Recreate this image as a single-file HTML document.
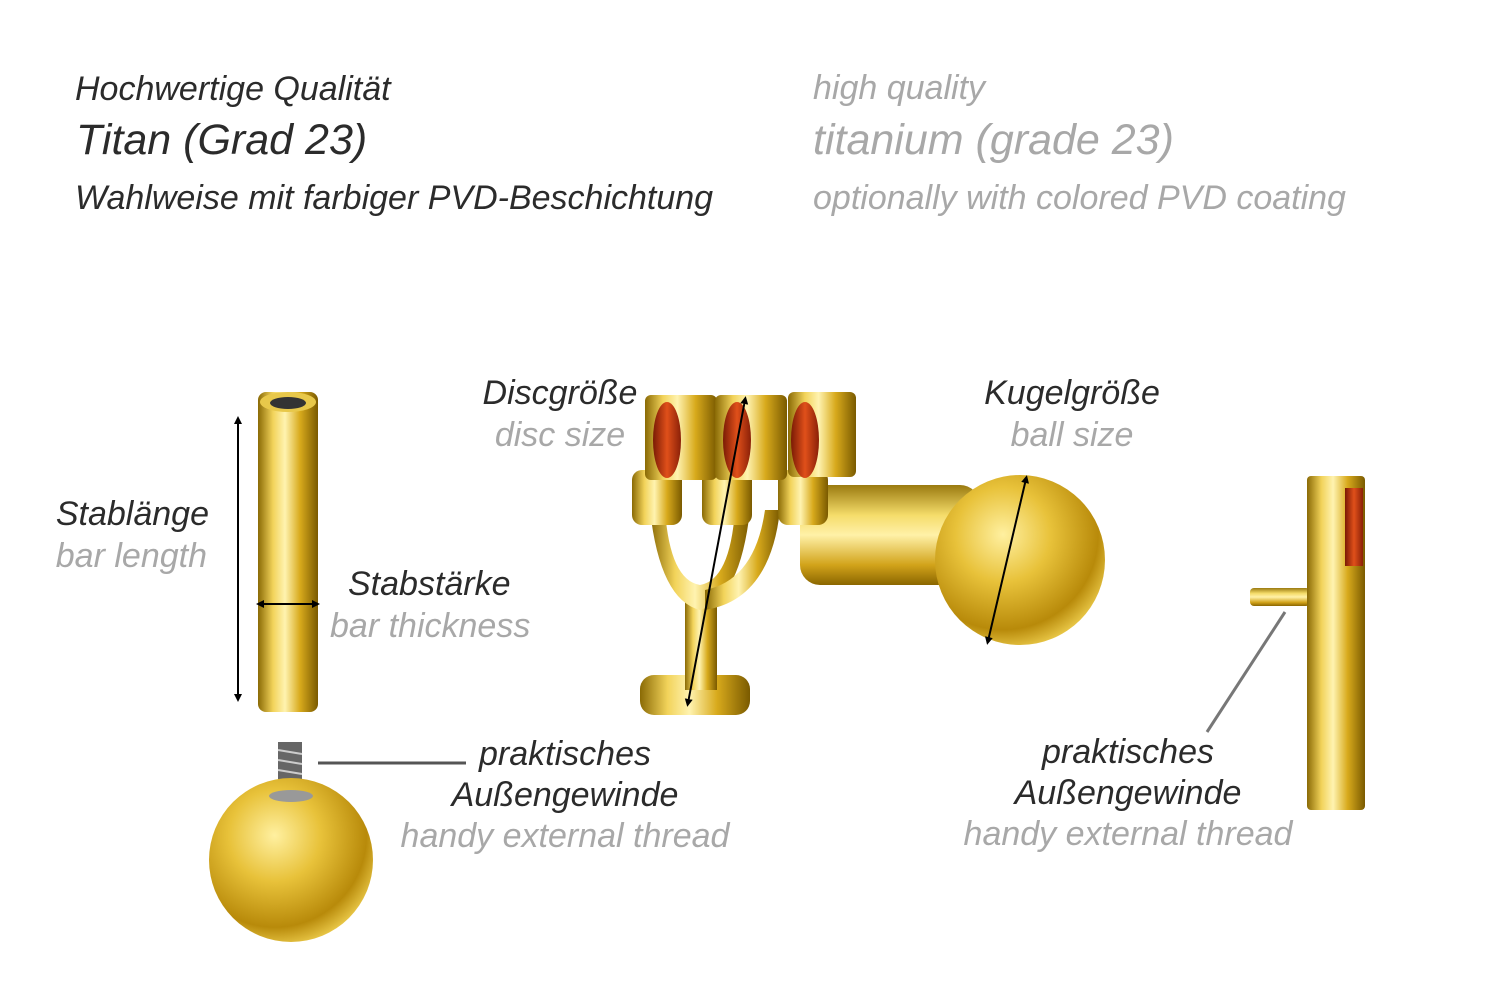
<!DOCTYPE html>
<html><head><meta charset="utf-8"><style>
html,body{margin:0;padding:0;background:#fff;}
body{width:1500px;height:1001px;position:relative;overflow:hidden;font-family:"Liberation Sans",sans-serif;font-style:italic;}
.t{position:absolute;white-space:nowrap;line-height:1;}
.d{color:#2b2b2b}.g{color:#a8a8a8}
.c{transform:translateX(-50%)}
.l{font-size:34px}
</style></head><body>
<svg width="1500" height="1001" style="position:absolute;left:0;top:0">
<defs>
<linearGradient id="gh" x1="0" x2="1" y1="0" y2="0">
<stop offset="0" stop-color="#8a6a05"/><stop offset=".25" stop-color="#f2d35a"/><stop offset=".45" stop-color="#fff3b0"/><stop offset=".7" stop-color="#d8aa1c"/><stop offset="1" stop-color="#7a5a00"/></linearGradient>
<linearGradient id="gv" x1="0" x2="0" y1="0" y2="1">
<stop offset="0" stop-color="#9a7a10"/><stop offset=".3" stop-color="#f5dc6a"/><stop offset=".5" stop-color="#fff1a8"/><stop offset=".8" stop-color="#d2a31a"/><stop offset="1" stop-color="#8a6600"/></linearGradient>
<radialGradient id="gb" cx=".4" cy=".35" r=".7">
<stop offset="0" stop-color="#fff0a0"/><stop offset=".4" stop-color="#e8c23a"/><stop offset=".8" stop-color="#b88a0a"/><stop offset="1" stop-color="#f0d050"/></radialGradient>
<linearGradient id="red" x1="0" x2="1"><stop offset="0" stop-color="#7a1a05"/><stop offset=".5" stop-color="#e0501a"/><stop offset="1" stop-color="#8a2008"/></linearGradient>
<marker id="ah" markerWidth="8" markerHeight="8" refX="4" refY="4" orient="auto-start-reverse" markerUnits="userSpaceOnUse"><path d="M0,0 L8,4 L0,8z" fill="#000"/></marker>
</defs>
<rect x="258" y="392" width="60" height="320" rx="8" fill="url(#gh)"/>
<ellipse cx="288" cy="402" rx="28" ry="10" fill="#e8c84a"/>
<ellipse cx="288" cy="403" rx="18" ry="6" fill="#333"/>
<line x1="238" y1="420" x2="238" y2="698" stroke="#000" stroke-width="2" marker-start="url(#ah)" marker-end="url(#ah)"/>
<line x1="260" y1="604" x2="316" y2="604" stroke="#000" stroke-width="2" marker-start="url(#ah)" marker-end="url(#ah)"/>
<rect x="278" y="742" width="24" height="60" fill="#666"/>
<g stroke="#ccc" stroke-width="2"><line x1="278" y1="750" x2="302" y2="754"/><line x1="278" y1="760" x2="302" y2="764"/><line x1="278" y1="770" x2="302" y2="774"/><line x1="278" y1="780" x2="302" y2="784"/><line x1="278" y1="790" x2="302" y2="794"/></g>
<circle cx="291" cy="860" r="82" fill="url(#gb)"/>
<ellipse cx="291" cy="796" rx="22" ry="6" fill="#999"/>
<line x1="318" y1="763" x2="466" y2="763" stroke="#555" stroke-width="3"/>
<rect x="800" y="485" width="180" height="100" rx="20" fill="url(#gv)"/>
<circle cx="1020" cy="560" r="85" fill="url(#gb)"/>
<g fill="url(#gh)">
<rect x="640" y="675" width="110" height="40" rx="14"/>
<rect x="685" y="600" width="32" height="90"/>
<path d="M650,510 Q660,600 700,610 Q740,600 750,510 L735,510 Q730,580 700,585 Q670,580 665,510z"/>
<path d="M780,510 Q770,600 705,610 L705,590 Q755,580 765,510z"/>
<rect x="632" y="470" width="50" height="55" rx="10"/>
<rect x="702" y="470" width="50" height="55" rx="10"/>
<rect x="778" y="470" width="50" height="55" rx="10"/>
<rect x="645" y="395" width="72" height="85" rx="6"/>
<rect x="715" y="395" width="72" height="85" rx="6"/>
<rect x="788" y="392" width="68" height="85" rx="6"/>
</g>
<ellipse cx="667" cy="440" rx="14" ry="38" fill="url(#red)"/>
<ellipse cx="737" cy="440" rx="14" ry="38" fill="url(#red)"/>
<ellipse cx="805" cy="440" rx="14" ry="38" fill="url(#red)"/>
<line x1="745" y1="400" x2="688" y2="703" stroke="#000" stroke-width="2" marker-start="url(#ah)" marker-end="url(#ah)"/>
<line x1="1026" y1="479" x2="988" y2="641" stroke="#000" stroke-width="2" marker-start="url(#ah)" marker-end="url(#ah)"/>
<rect x="1250" y="588" width="60" height="18" rx="4" fill="url(#gv)"/>
<rect x="1307" y="476" width="58" height="334" rx="4" fill="url(#gh)"/>
<rect x="1345" y="488" width="18" height="78" fill="url(#red)"/>
<line x1="1285" y1="612" x2="1207" y2="732" stroke="#777" stroke-width="3"/>
</svg>
<div class="t d" style="left:75px;top:72px;font-size:34px">Hochwertige Qualität</div>
<div class="t d" style="left:76px;top:119px;font-size:43px">Titan (Grad 23)</div>
<div class="t d" style="left:75px;top:181px;font-size:34px">Wahlweise mit farbiger PVD-Beschichtung</div>
<div class="t g" style="left:813px;top:71px;font-size:34px">high quality</div>
<div class="t g" style="left:813px;top:119px;font-size:43px">titanium (grade 23)</div>
<div class="t g" style="left:813px;top:181px;font-size:34px">optionally with colored PVD coating</div>
<div class="t d l" style="right:1291px;top:497px">Stablänge</div>
<div class="t g l" style="right:1293px;top:539px">bar length</div>
<div class="t d l" style="left:348px;top:567px">Stabstärke</div>
<div class="t g l" style="left:330px;top:609px">bar thickness</div>
<div class="t d c l" style="left:560px;top:376px">Discgröße</div>
<div class="t g c l" style="left:560px;top:418px">disc size</div>
<div class="t d c l" style="left:1072px;top:376px">Kugelgröße</div>
<div class="t g c l" style="left:1072px;top:418px">ball size</div>
<div class="t d c l" style="left:565px;top:737px">praktisches</div>
<div class="t d c l" style="left:565px;top:778px">Außengewinde</div>
<div class="t g c l" style="left:565px;top:819px">handy external thread</div>
<div class="t d c l" style="left:1128px;top:735px">praktisches</div>
<div class="t d c l" style="left:1128px;top:776px">Außengewinde</div>
<div class="t g c l" style="left:1128px;top:817px">handy external thread</div>
</body></html>
